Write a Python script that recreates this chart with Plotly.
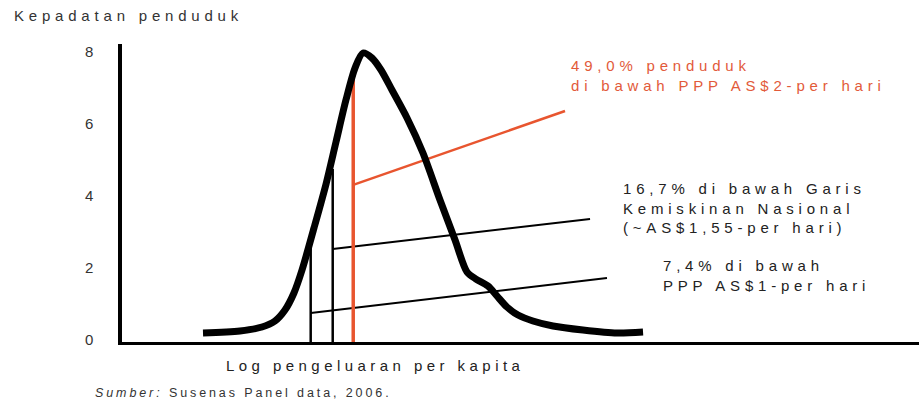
import json
import plotly.graph_objects as go

# ---- data ----
log_exp = [0.813, 1.184, 1.405, 1.536, 1.636, 1.726, 1.807, 1.927, 2.048, 2.148, 2.248,
           2.339, 2.419, 2.509, 2.600, 2.710, 2.861, 3.021, 3.192, 3.343, 3.463,
           3.553, 3.674, 3.764, 3.864, 3.975, 4.125, 4.326, 4.627, 4.969, 5.230]
density = [0.194, 0.25, 0.361, 0.528, 0.833, 1.306, 1.944, 3.111, 4.333, 5.5, 6.667,
           7.556, 7.972, 7.833, 7.5, 6.944, 6.167, 5.194, 3.889, 2.778, 1.889,
           1.694, 1.5, 1.222, 0.917, 0.694, 0.528, 0.389, 0.278, 0.194, 0.222]

threshold_names = ["PPP AS$1", "Garis Kemiskinan Nasional", "PPP AS$2"]
threshold_x = [1.894, 2.115, 2.321]
threshold_top = [2.75, 4.75, 7.3]
leader_start_y = [0.75, 2.53, 4.31]
leader_end_x = [4.868, 4.698, 4.447]
leader_end_y = [1.72, 3.36, 6.36]

labels = [
    "7,4% di bawah<br>PPP AS$1-per hari",
    "16,7% di bawah Garis<br>Kemiskinan Nasional<br>(~AS$1,55-per hari)",
    "49,0% penduduk<br>di bawah PPP AS$2-per hari",
]
y_ticks = [0, 2, 4, 6, 8]

# ---- styling ----
RED = "#e8552f"
RED_TXT = "#e25a3a"
FONT = "Liberation Sans, Arial, sans-serif"
W, H = 919, 403
L, R, T, B = 122, 0, 44, 61
PW, PH = W - L - R, H - T - B


def px(xp):
    return (xp - L) / PW


def py(yp):
    return (H - B - yp) / PH


line_colors = ["black", "black", RED]
line_widths = [2.5, 2.5, 3.5]
leader_widths = [2, 2, 2.5]

fig = go.Figure()

for i in range(3):
    fig.add_trace(go.Scatter(
        x=[threshold_x[i], threshold_x[i]], y=[-0.06, threshold_top[i]],
        mode="lines", line=dict(color=line_colors[i], width=line_widths[i]),
        name=threshold_names[i], hoverinfo="skip"))
    fig.add_trace(go.Scatter(
        x=[threshold_x[i], leader_end_x[i]], y=[leader_start_y[i], leader_end_y[i]],
        mode="lines", line=dict(color=line_colors[i], width=leader_widths[i]),
        hoverinfo="skip"))

fig.add_trace(go.Scatter(
    x=log_exp, y=density, mode="lines",
    line=dict(color="black", width=7, shape="spline", smoothing=0.8),
    name="Kepadatan"))

spacings = []
text_pos = [(662, 275.5), (622, 207.5), (570, 75.5)]
for i in range(3):
    fig.add_annotation(
        x=px(text_pos[i][0]), y=py(text_pos[i][1]), xref="paper", yref="paper",
        text=labels[i], showarrow=False, xanchor="left", yanchor="middle",
        align="left", borderpad=0,
        font=dict(family=FONT, size=15, color=RED_TXT if i == 2 else "#222"))
    spacings.append(4.8)

fig.add_annotation(x=px(13), y=py(16), xref="paper", yref="paper",
                   text="Kepadatan penduduk", showarrow=False, xanchor="left",
                   yanchor="middle", align="left", borderpad=0,
                   font=dict(family=FONT, size=15, color="#333"))
spacings.append(4.8)
fig.add_annotation(x=px(225), y=py(365), xref="paper", yref="paper",
                   text="Log pengeluaran per kapita", showarrow=False, xanchor="left",
                   yanchor="middle", align="left", borderpad=0,
                   font=dict(family=FONT, size=15, color="#222"))
spacings.append(4.45)
fig.add_annotation(x=px(94), y=py(393), xref="paper", yref="paper",
                   text="<i>Sumber:</i> Susenas Panel data, 2006.", showarrow=False,
                   xanchor="left", yanchor="middle", align="left", borderpad=0,
                   font=dict(family=FONT, size=12.5, color="#333"))
spacings.append(2.9)

fig.update_layout(
    width=W, height=H, margin=dict(l=L, r=R, t=T, b=B),
    paper_bgcolor="white", plot_bgcolor="white", showlegend=False,
    xaxis=dict(range=[0, 8], showgrid=False, zeroline=False, showticklabels=False,
               showline=True, linecolor="black", linewidth=2.5, ticks=""),
    yaxis=dict(range=[-0.055, 8.222], tickvals=y_ticks, showgrid=False, zeroline=False,
               showline=True, linecolor="black", linewidth=3.5, ticks="",
               ticklabelstandoff=22,
               tickfont=dict(family=FONT, size=15, color="#333")),
)

post = """
document.body.style.margin = '0';
document.body.style.padding = '0';
var gd = document.getElementById('{plot_id}');
var SP = %s;
function sp(){
  gd.querySelectorAll('g.annotation').forEach(function(g){
    var i = parseInt(g.getAttribute('data-index'));
    var t = g.querySelector('.annotation-text');
    if (t && !isNaN(i)) t.style.letterSpacing = SP[i] + 'px';
  });
}
sp();
gd.on('plotly_afterplot', sp);
""" % json.dumps(spacings)

fig.write_html("out.html", config={"displayModeBar": False}, post_script=post)
